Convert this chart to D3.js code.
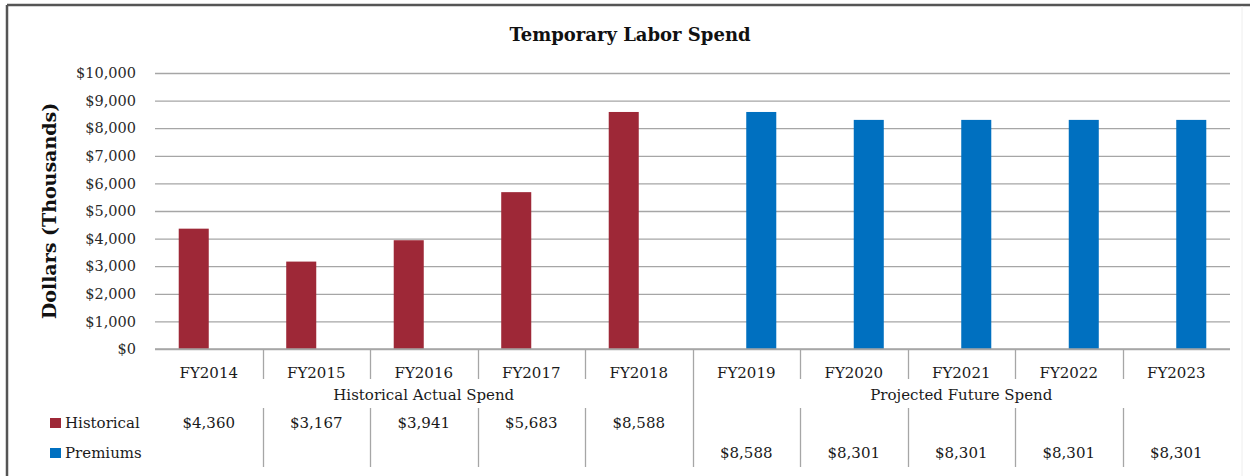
<!DOCTYPE html>
<html>
<head>
<meta charset="utf-8">
<script src="https://cdn.jsdelivr.net/npm/d3@7"></script>
<style>
  body { margin: 0; background: #fff; }
  svg text { font-family: "DejaVu Serif", "Liberation Serif", serif; }
</style>
</head>
<body>
<div id="chart"></div>
<script>
// chart data
const years = ["FY2014", "FY2015", "FY2016", "FY2017", "FY2018",
               "FY2019", "FY2020", "FY2021", "FY2022", "FY2023"];
const seriesNames = ["Historical", "Premiums"];
const historical = [4360, 3167, 3941, 5683, 8588, null, null, null, null, null];
const premiums = [null, null, null, null, null, 8588, 8301, 8301, 8301, 8301];
const groupLabels = ["Historical Actual Spend", "Projected Future Spend"];
const groupSizes = [5, 5];
const yTicks = [0, 1000, 2000, 3000, 4000, 5000, 6000, 7000, 8000, 9000, 10000];

const colors = { Historical: "#9e2837", Premiums: "#0070c0" };

// dimensions
const width = 1250, height = 476;
const margin = { top: 73, right: 20, bottom: 127, left: 155 };
const plotRight = 1230;
const fontSize = "15px";

const svg = d3.select("#chart")
    .append("svg")
    .attr("width", width)
    .attr("height", height);

// frame
svg.append("line").attr("x1", 7).attr("x2", 7).attr("y1", 5).attr("y2", height)
    .attr("stroke", "#555").attr("stroke-width", 2.5);
svg.append("line").attr("x1", 7).attr("x2", width).attr("y1", 5).attr("y2", 5)
    .attr("stroke", "#555").attr("stroke-width", 2.5);
svg.append("line").attr("x1", 1242).attr("x2", 1242).attr("y1", 6).attr("y2", height)
    .attr("stroke", "#eee").attr("stroke-width", 1);

// scales
const x = d3.scaleBand().domain(years).range([margin.left, plotRight]).padding(0);
const xSub = d3.scaleBand().domain(seriesNames).range([0, x.bandwidth()])
    .paddingInner(0).paddingOuter(0.79);
const y = d3.scaleLinear().domain([0, 10000]).range([height - margin.bottom, margin.top]);
const fmt = d3.format("$,");

// title
svg.append("text")
    .attr("x", 630).attr("y", 41)
    .attr("text-anchor", "middle")
    .style("font-size", "18px").style("font-weight", "bold")
    .attr("fill", "#111")
    .text("Temporary Labor Spend");

// y axis title
svg.append("text")
    .attr("transform", "translate(56," + ((y(0) + y(10000)) / 2) + ") rotate(-90)")
    .attr("text-anchor", "middle")
    .style("font-size", "19px").style("font-weight", "bold")
    .attr("fill", "#111")
    .text("Dollars (Thousands)");

// gridlines + y labels
const yAxis = svg.append("g")
    .attr("transform", "translate(" + margin.left + ",0)")
    .call(d3.axisLeft(y).tickValues(yTicks).tickFormat(fmt)
        .tickSize(-(plotRight - margin.left)).tickPadding(19));
yAxis.select(".domain").remove();
yAxis.selectAll(".tick line").attr("stroke", "#a6a6a6").attr("stroke-width", 1.3);
yAxis.selectAll(".tick text")
    .attr("fill", "#2a2a2a")
    .style("font-size", "14.5px")
    .style("font-family", "DejaVu Serif");

// bars
const rows = [historical, premiums];
seriesNames.forEach((name, si) => {
    svg.append("g").selectAll("rect")
        .data(years.map((yr, i) => ({ yr: yr, v: rows[si][i] })).filter(d => d.v != null))
        .enter()
        .append("rect")
        .attr("x", d => x(d.yr) + xSub(name))
        .attr("width", xSub.bandwidth())
        .attr("y", d => y(d.v))
        .attr("height", d => y(0) - y(d.v))
        .attr("fill", colors[name]);
});

// baseline
svg.append("line")
    .attr("x1", margin.left).attr("x2", plotRight)
    .attr("y1", y(0)).attr("y2", y(0))
    .attr("stroke", "#a6a6a6").attr("stroke-width", 1.3);

// data table
const base = y(0);
const tableG = svg.append("g");
const divColor = "#a6a6a6";

// category labels
tableG.selectAll("text.cat")
    .data(years)
    .enter()
    .append("text")
    .attr("class", "cat")
    .attr("x", d => x(d) + x.bandwidth() / 2)
    .attr("y", base + 29)
    .attr("text-anchor", "middle")
    .attr("fill", "#1a1a1a")
    .style("font-size", fontSize)
    .text(d => d);

// dividers between categories
const groupEnds = d3.cumsum(groupSizes);
years.slice(1).forEach((yr, j) => {
    const xi = Math.round(x(yr)) + 0.5;
    const isGroupEdge = groupEnds.includes(j + 1);
    if (isGroupEdge) {
        tableG.append("line").attr("x1", xi).attr("x2", xi)
            .attr("y1", base).attr("y2", base + 118)
            .attr("stroke", divColor).attr("stroke-width", 1.3);
    } else {
        tableG.append("line").attr("x1", xi).attr("x2", xi)
            .attr("y1", base).attr("y2", base + 30)
            .attr("stroke", divColor).attr("stroke-width", 1.3);
        tableG.append("line").attr("x1", xi).attr("x2", xi)
            .attr("y1", base + 59).attr("y2", base + 118)
            .attr("stroke", divColor).attr("stroke-width", 1.3);
    }
});

// group labels
let start = 0;
groupLabels.forEach((lbl, gi) => {
    const first = years[start], last = years[start + groupSizes[gi] - 1];
    const cx = (x(first) + x(last) + x.bandwidth()) / 2;
    tableG.append("text")
        .attr("x", cx).attr("y", base + 51)
        .attr("text-anchor", "middle")
        .attr("fill", "#1a1a1a")
        .style("font-size", fontSize)
        .text(lbl);
    start += groupSizes[gi];
});

// value rows + legend keys
const rowY = [base + 79, base + 109];
seriesNames.forEach((name, si) => {
    tableG.append("rect")
        .attr("x", 50).attr("y", rowY[si] - 10)
        .attr("width", 11).attr("height", 10)
        .attr("fill", colors[name]);
    tableG.append("text")
        .attr("x", 65).attr("y", rowY[si])
        .attr("fill", "#1a1a1a")
        .style("font-size", fontSize)
        .text(name);
    tableG.selectAll(null)
        .data(years.map((yr, i) => ({ yr: yr, v: rows[si][i] })).filter(d => d.v != null))
        .enter()
        .append("text")
        .attr("x", d => x(d.yr) + x.bandwidth() / 2)
        .attr("y", rowY[si])
        .attr("text-anchor", "middle")
        .attr("fill", "#1a1a1a")
        .style("font-size", fontSize)
        .text(d => fmt(d.v));
});
</script>
</body>
</html>
